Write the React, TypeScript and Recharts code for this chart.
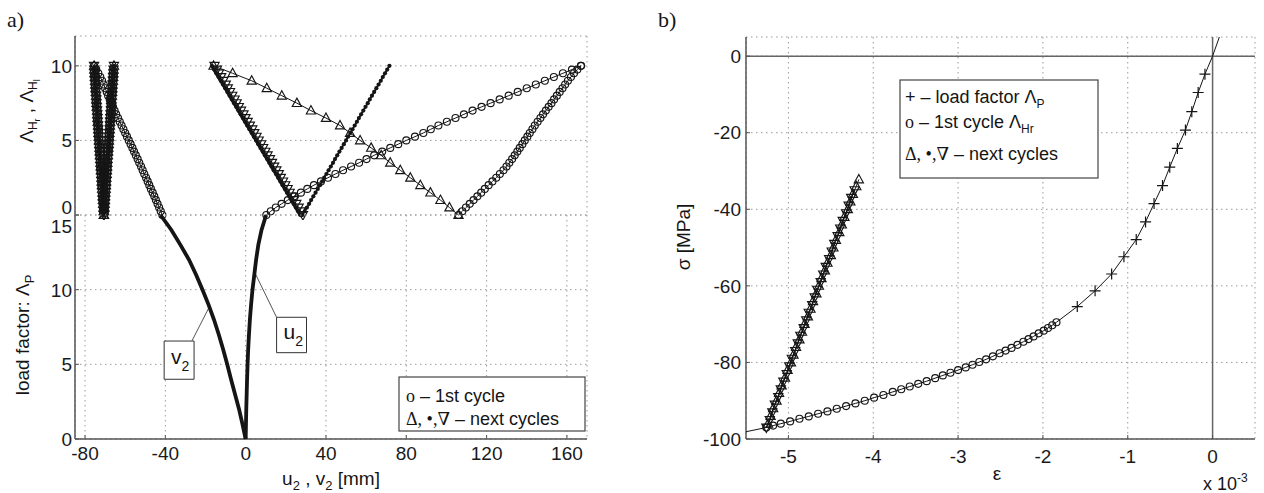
import React from 'react'
import { ScatterChart, Scatter, XAxis, YAxis, CartesianGrid, ReferenceArea, ReferenceLine } from 'recharts'

const SANS = "'Liberation Sans', Arial, Helvetica, sans-serif"
const SERIF = "'Liberation Serif', 'DejaVu Serif', 'Times New Roman', serif"
const INK = '#151515'
const FRAME = '#555'
const GRID = '#9a9a9a'

// ---------- panel a: ticks ----------
const xTicksA = [-80, -40, 0, 40, 80, 120, 160]
const yTicksTop = [0, 5, 10]
const yTicksBottom = [0, 5, 10, 15]

// hysteresis factor steps
const lambdaQ = [0, 0.25, 0.5, 0.75, 1, 1.25, 1.5, 1.75, 2, 2.25, 2.5, 2.75, 3, 3.25, 3.5, 3.75, 4, 4.25, 4.5, 4.75, 5, 5.25, 5.5, 5.75, 6, 6.25, 6.5, 6.75, 7, 7.25, 7.5, 7.75, 8, 8.25, 8.5, 8.75, 9, 9.25, 9.5, 9.75, 10]
const lambdaH = [0, 0.5, 1, 1.5, 2, 2.5, 3, 3.5, 4, 4.5, 5, 5.5, 6, 6.5, 7, 7.5, 8, 8.5, 9, 9.5, 10]

// 1st cycle (circles)
const circLeftX = [-41.5, -42.3, -43.1, -43.9, -44.7, -45.5, -46.3, -47.2, -48.0, -48.8, -49.6, -50.5, -51.3, -52.1, -53.0, -53.8, -54.7, -55.6, -56.4, -57.3, -58.2, -59.1, -60.0, -60.9, -61.8, -62.7, -63.6, -64.5, -65.3, -66.1, -66.9, -67.7, -68.5, -69.2, -70.0, -70.7, -71.5, -72.4, -73.4, -74.4, -75.5]
const circRightUpX = [10.3, 12.5, 15.0, 17.9, 21.0, 24.2, 27.5, 30.7, 34.0, 37.5, 41.0, 44.7, 48.5, 52.5, 56.5, 60.2, 64.0, 68.0, 72.0, 76.0, 80.0, 84.3, 88.5, 92.2, 96.0, 100.2, 104.5, 108.7, 113.0, 117.5, 122.0, 126.5, 131.0, 135.5, 140.0, 144.5, 149.0, 153.5, 158.0, 162.5, 167.0]
const circRightLowX = [106.0, 107.9, 109.7, 111.6, 113.5, 115.4, 117.3, 119.1, 121.0, 122.9, 124.8, 126.6, 128.4, 129.9, 131.3, 132.7, 134.0, 135.3, 136.5, 137.8, 139.0, 140.3, 141.5, 142.8, 144.0, 145.4, 146.8, 148.1, 149.5, 150.9, 152.3, 153.6, 155.0, 156.4, 157.8, 159.1, 160.5, 162.0, 163.5, 165.2, 167.0]

// next cycles
const triUpX = [106, 101.5, 97, 92, 87, 82, 77, 72, 67.5, 62.5, 57, 52, 47, 40, 32.5, 25.5, 18, 10.5, 3, -6.5, -16]
const triDownMidX = [28.5, 27.4, 26.4, 25.2, 24.1, 23.0, 21.9, 20.9, 19.7, 18.6, 17.5, 16.5, 15.3, 14.2, 13.1, 12.1, 10.9, 9.8, 8.7, 7.7, 6.5, 5.4, 4.3, 3.3, 2.1, 1.0, -0.1, -1.1, -2.3, -3.4, -4.5, -5.5, -6.7, -7.8, -8.9, -9.9, -11.1, -12.2, -13.3, -14.3, -15.5]
const dotsMidX = [27.2, 26.1, 25.0, 23.9, 22.8, 21.7, 20.6, 19.5, 18.4, 17.3, 16.2, 15.1, 14.0, 12.9, 11.8, 10.7, 9.6, 8.5, 7.4, 6.3, 5.2, 4.1, 3.0, 1.9, 0.8, -0.3, -1.4, -2.5, -3.6, -4.7, -5.8, -6.9, -8.0, -9.1, -10.2, -11.3, -12.4, -13.5, -14.6, -15.7, -16.8]
const dotsRightX = [28.3, 29.4, 30.5, 31.6, 32.6, 33.7, 34.8, 35.9, 37.0, 38.1, 39.1, 40.2, 41.3, 42.4, 43.5, 44.5, 45.6, 46.7, 47.8, 48.9, 50.0, 51.0, 52.1, 53.2, 54.3, 55.4, 56.4, 57.5, 58.6, 59.7, 60.8, 61.8, 62.9, 64.0, 65.1, 66.2, 67.3, 68.3, 69.4, 70.5, 71.6]
const vLeftX = [-70.6, -70.7, -70.8, -71.0, -71.1, -71.2, -71.3, -71.5, -71.6, -71.7, -71.8, -71.9, -72.1, -72.2, -72.3, -72.4, -72.6, -72.7, -72.8, -72.9, -73.1, -73.2, -73.3, -73.4, -73.5, -73.7, -73.8, -73.9, -74.0, -74.2, -74.3, -74.4, -74.5, -74.6, -74.8, -74.9, -75.0, -75.1, -75.3, -75.4, -75.5]
const vRightX = [-70.6, -70.5, -70.3, -70.2, -70.1, -70.0, -69.9, -69.7, -69.6, -69.5, -69.4, -69.2, -69.1, -69.0, -68.9, -68.8, -68.6, -68.5, -68.4, -68.2, -68.1, -68.0, -67.9, -67.7, -67.6, -67.5, -67.4, -67.3, -67.1, -67.0, -66.9, -66.8, -66.6, -66.5, -66.4, -66.3, -66.1, -66.0, -65.9, -65.8, -65.6]

// load phase
const lambdaP = [0, 1, 2, 3, 4, 5, 6, 7, 8, 9, 10, 11, 12, 13, 14, 15]
const v2Disp = [0, -1.6, -3.3, -5.3, -7.3, -9.2, -11.2, -13.4, -15.8, -18.5, -21.5, -24.7, -28.2, -32.5, -37.0, -42.4]
const u2Disp = [0, 0.15, 0.3, 0.5, 0.7, 0.95, 1.25, 1.65, 2.1, 2.7, 3.4, 4.3, 5.2, 6.3, 7.9, 10.2]

// annotation boxes (data coords)
const v2Box = { x1: -40.6, x2: -25.7, y1: 4.0, y2: 6.56 }
const v2Lead = [{ x: -26.8, y: 6.56 }, { x: -17.9, y: 8.9 }]
const u2Box = { x1: 15.4, x2: 30.3, y1: 5.78, y2: 8.15 }
const u2Lead = [{ x: 15.4, y: 8.15 }, { x: 4.7, y: 11.1 }]

// ---------- panel b ----------
const xTicksB = [-5, -4, -3, -2, -1, 0]
const yTicksB = [-100, -80, -60, -40, -20, 0]

const plusEps = [-0.09, -0.17, -0.245, -0.32, -0.415, -0.505, -0.59, -0.69, -0.79, -0.9, -1.045, -1.19, -1.385, -1.595]
const plusSigma = [-4.7, -9.5, -14.5, -19.3, -24.1, -29.0, -33.8, -38.5, -43.3, -47.9, -52.4, -56.9, -61.3, -65.4]

const circEps = [-1.84, -1.89, -1.94, -1.99, -2.05, -2.11, -2.17, -2.23, -2.30, -2.37, -2.44, -2.51, -2.59, -2.67, -2.75, -2.83, -2.91, -3.00, -3.09, -3.18, -3.27, -3.37, -3.47, -3.57, -3.67, -3.77, -3.88, -3.99, -4.10, -4.21, -4.32, -4.43, -4.54, -4.65, -4.76, -4.87, -4.98, -5.09, -5.18, -5.26]
const circSigma = [-69.5, -70.3, -71.0, -71.7, -72.4, -73.2, -73.9, -74.6, -75.4, -76.2, -76.9, -77.6, -78.4, -79.2, -79.9, -80.6, -81.3, -82.0, -82.7, -83.4, -84.1, -84.9, -85.6, -86.3, -87.0, -87.7, -88.5, -89.2, -90.0, -90.7, -91.4, -92.1, -92.8, -93.4, -94.1, -94.7, -95.4, -96.0, -96.5, -97.0]

const curveHeadEps = [0.08, 0]
const curveHeadSigma = [5, 0]
const curveTailEps = [-5.5]
const curveTailSigma = [-98.1]

const triUpEps = [-5.24, -5.21, -5.18, -5.14, -5.11, -5.08, -5.04, -5.01, -4.97, -4.94, -4.91, -4.87, -4.84, -4.81, -4.77, -4.74, -4.71, -4.67, -4.64, -4.61, -4.57, -4.54, -4.50, -4.47, -4.44, -4.40, -4.37, -4.34, -4.30, -4.27, -4.24, -4.20, -4.17]
const triUpSigma = [-96, -94, -92, -90, -88, -86, -84, -82, -80, -78, -76, -74, -72, -70, -68, -66, -64, -62, -60, -58, -56, -54, -52, -50, -48, -46, -44, -42, -40, -38, -36, -34, -32.2]
const triDownEps = [-5.26, -5.22, -5.19, -5.16, -5.12, -5.09, -5.06, -5.02, -4.99, -4.96, -4.92, -4.89, -4.86, -4.82, -4.79, -4.76, -4.72, -4.69, -4.66, -4.62, -4.59, -4.56, -4.52, -4.49, -4.46, -4.42, -4.39, -4.36, -4.32, -4.29, -4.26, -4.22]
const triDownSigma = [-97, -95, -93, -91, -89, -87, -85, -83, -81, -79, -77, -75, -73, -71, -69, -67, -65, -63, -61, -59, -57, -55, -53, -51, -49, -47, -45, -43, -41, -39, -37, -35]

type Pt = { x: number; y: number }
const zip = (xs: number[], ys: number[]): Pt[] => xs.map((x, i) => ({ x, y: ys[i] }))

const curveB = [
  ...zip(curveHeadEps, curveHeadSigma),
  ...zip(plusEps, plusSigma),
  ...zip(circEps, circSigma),
  ...zip(curveTailEps, curveTailSigma),
]

// markers
const MW = 1.15
const Ring = (p: any) => <circle cx={p.cx} cy={p.cy} r={3.5} fill="none" stroke={INK} strokeWidth={MW} />
const TriUp = (p: any) => (
  <path d={`M${p.cx},${p.cy - 5}L${p.cx + 4.6},${p.cy + 3.4}L${p.cx - 4.6},${p.cy + 3.4}Z`} fill="none" stroke={INK} strokeWidth={MW} />
)
const TriDown = (p: any) => (
  <path d={`M${p.cx},${p.cy + 5}L${p.cx + 4.6},${p.cy - 3.4}L${p.cx - 4.6},${p.cy - 3.4}Z`} fill="none" stroke={INK} strokeWidth={MW} />
)
const Dot = (p: any) => <circle cx={p.cx} cy={p.cy} r={2.1} fill={INK} />
const Plus = (p: any) => (
  <path d={`M${p.cx - 5.5},${p.cy}H${p.cx + 5.5}M${p.cx},${p.cy - 5.5}V${p.cy + 5.5}`} stroke={INK} strokeWidth={1.2} fill="none" />
)
const NoMark = () => <g />

const thin = { stroke: INK, strokeWidth: 1 }
const tickText = { fontSize: 19, fontFamily: SANS, fill: '#1a1a1a' }

const makeYTick = (shift: Record<number, number>) => (p: any) => (
  <text x={p.x} y={p.y + (shift[p.payload.value] || 0)} dy="0.36em" textAnchor="end" fontSize={19} fontFamily={SANS} fill="#1a1a1a">
    {p.payload.value}
  </text>
)

const boxLabel = (main: string, sub: string) => (props: any) => {
  const vb = props.viewBox || {}
  const cx = vb.x + vb.width / 2
  const cy = vb.y + vb.height / 2
  return (
    <text x={cx - 8} y={cy + 4} fontSize={21} fontFamily={SANS} fill={INK}>
      {main}
      <tspan dy={7} fontSize={14}>{sub}</tspan>
    </text>
  )
}

export default function App() {
  const frameLine = { stroke: FRAME, strokeWidth: 1.5 }
  return (
    <div style={{ position: 'absolute', left: 0, top: 0, width: 1264, height: 493, background: '#fff', fontFamily: SANS }}>
      {/* a) upper: hysteresis factors */}
      <ScatterChart width={600} height={220} margin={{ top: 36, right: 13, bottom: 5, left: 0 }} style={{ position: 'absolute', left: 0, top: 0 }}>
        <CartesianGrid stroke={GRID} strokeDasharray="1.5 3.5" />
        <XAxis type="number" dataKey="x" domain={[-85, 170]} ticks={xTicksA} interval={0} height={0} tick={false} tickSize={-4} axisLine={frameLine} tickLine={{ stroke: FRAME }} />
        <XAxis xAxisId="t" orientation="top" type="number" domain={[-85, 170]} ticks={xTicksA} interval={0} height={0} mirror tick={false} tickSize={4} axisLine={{ stroke: '#000', strokeWidth: 1.5 }} tickLine={{ stroke: FRAME }} />
        <YAxis type="number" dataKey="y" domain={[0, 12]} ticks={yTicksTop} interval={0} width={75} tickSize={-4} tickMargin={7} tick={makeYTick({ 0: -8 })} axisLine={frameLine} tickLine={{ stroke: FRAME }} />
        <YAxis yAxisId="r" orientation="right" type="number" domain={[0, 12]} ticks={yTicksTop} interval={0} width={0} mirror tick={false} tickSize={4} axisLine={frameLine} tickLine={{ stroke: FRAME }} />

        <Scatter data={zip(circLeftX, lambdaQ)} line={thin} lineType="joint" shape={Ring} isAnimationActive={false} />
        <Scatter data={zip(vLeftX, lambdaQ)} line={{ stroke: INK, strokeWidth: 2.5 }} lineType="joint" shape={TriDown} isAnimationActive={false} />
        <Scatter data={zip(vLeftX, lambdaQ)} shape={TriUp} isAnimationActive={false} />
        <Scatter data={zip(vRightX, lambdaQ)} line={{ stroke: INK, strokeWidth: 2.5 }} lineType="joint" shape={TriUp} isAnimationActive={false} />
        <Scatter data={zip(vRightX, lambdaQ)} shape={TriDown} isAnimationActive={false} />
        <Scatter data={zip(vRightX, lambdaQ)} shape={Dot} isAnimationActive={false} />

        <Scatter data={zip(circRightUpX, lambdaQ)} line={thin} lineType="joint" shape={Ring} isAnimationActive={false} />
        <Scatter data={zip(circRightLowX, lambdaQ)} line={thin} lineType="joint" shape={Ring} isAnimationActive={false} />
        <Scatter data={zip(triUpX, lambdaH)} line={thin} lineType="joint" shape={TriUp} isAnimationActive={false} />
        <Scatter data={zip(triDownMidX, lambdaQ)} line={thin} lineType="joint" shape={TriDown} isAnimationActive={false} />
        <Scatter data={zip(dotsMidX, lambdaQ)} line={{ stroke: INK, strokeWidth: 3.5 }} lineType="joint" shape={Dot} isAnimationActive={false} />
        <Scatter data={zip(dotsRightX, lambdaQ)} line={{ stroke: INK, strokeWidth: 1.8 }} lineType="joint" shape={Dot} isAnimationActive={false} />
      </ScatterChart>

      {/* a) lower: load phase */}
      <ScatterChart width={600} height={493} margin={{ top: 215, right: 13, bottom: 0, left: 0 }} style={{ position: 'absolute', left: 0, top: 0 }}>
        <CartesianGrid stroke={GRID} strokeDasharray="1.5 3.5" />
        <XAxis type="number" dataKey="x" domain={[-85, 170]} ticks={xTicksA} interval={0} height={54} tickSize={-4} tickMargin={12} tick={tickText} axisLine={frameLine} tickLine={{ stroke: FRAME }} />
        <XAxis xAxisId="t" orientation="top" type="number" domain={[-85, 170]} ticks={xTicksA} interval={0} height={0} mirror tick={false} tickLine={false} axisLine={frameLine} />
        <YAxis type="number" dataKey="y" domain={[0, 15]} ticks={yTicksBottom} interval={0} width={75} tickSize={-4} tickMargin={7} tick={makeYTick({ 15: 11 })} axisLine={frameLine} tickLine={{ stroke: FRAME }} />
        <YAxis yAxisId="r" orientation="right" type="number" domain={[0, 15]} ticks={yTicksBottom} interval={0} width={0} mirror tick={false} tickSize={4} axisLine={frameLine} tickLine={{ stroke: FRAME }} />

        <Scatter data={zip(v2Disp, lambdaP)} line={{ stroke: INK, strokeWidth: 3.8 }} lineType="joint" shape={NoMark} isAnimationActive={false} />
        <Scatter data={zip(u2Disp, lambdaP)} line={{ stroke: INK, strokeWidth: 3.8 }} lineType="joint" shape={NoMark} isAnimationActive={false} />

        <ReferenceLine segment={v2Lead} stroke="#555" strokeWidth={1} />
        <ReferenceLine segment={u2Lead} stroke="#555" strokeWidth={1} />
        <ReferenceArea {...v2Box} fill="#fff" fillOpacity={1} stroke="#333" strokeWidth={1} label={boxLabel('v', '2')} />
        <ReferenceArea {...u2Box} fill="#fff" fillOpacity={1} stroke="#333" strokeWidth={1} label={boxLabel('u', '2')} />
      </ScatterChart>

      {/* b) stress-strain */}
      <ScatterChart width={624} height={493} margin={{ top: 37, right: 9, bottom: 0, left: 0 }} style={{ position: 'absolute', left: 640, top: 0 }}>
        <CartesianGrid stroke={GRID} strokeDasharray="1.5 3.5" />
        <XAxis type="number" dataKey="x" domain={[-5.5, 0.5]} ticks={xTicksB} interval={0} height={54} tickSize={-4} tickMargin={15} tick={tickText} axisLine={frameLine} tickLine={{ stroke: FRAME }} />
        <XAxis xAxisId="t" orientation="top" type="number" domain={[-5.5, 0.5]} ticks={xTicksB} interval={0} height={0} mirror tick={false} tickSize={4} axisLine={{ stroke: '#000', strokeWidth: 1.5 }} tickLine={{ stroke: FRAME }} />
        <YAxis type="number" dataKey="y" domain={[-100, 5]} ticks={yTicksB} interval={0} width={106} tickSize={-4} tickMargin={9} tick={tickText} axisLine={frameLine} tickLine={{ stroke: FRAME }} />
        <YAxis yAxisId="r" orientation="right" type="number" domain={[-100, 5]} ticks={yTicksB} interval={0} width={0} mirror tick={false} tickSize={4} axisLine={frameLine} tickLine={{ stroke: FRAME }} />

        <ReferenceLine x={0} stroke="#666" strokeWidth={1.5} />
        <ReferenceLine y={0} stroke="#666" strokeWidth={1.5} />

        <Scatter data={curveB} line={thin} lineType="joint" shape={NoMark} isAnimationActive={false} />
        <Scatter data={zip(plusEps, plusSigma)} shape={Plus} isAnimationActive={false} />
        <Scatter data={zip(circEps, circSigma)} shape={Ring} isAnimationActive={false} />
        <Scatter data={zip(triDownEps, triDownSigma)} line={{ stroke: INK, strokeWidth: 1.5 }} lineType="joint" shape={TriDown} isAnimationActive={false} />
        <Scatter data={zip(triUpEps, triUpSigma)} line={thin} lineType="joint" shape={TriUp} isAnimationActive={false} />
      </ScatterChart>

      {/* titles, labels and legends */}
      <svg width={1264} height={493} style={{ position: 'absolute', left: 0, top: 0, pointerEvents: 'none' }} fontFamily={SANS} fill={INK}>
        <text x={7} y={27} fontFamily={SERIF} fontSize={22}>a)</text>
        <text x={658} y={27} fontFamily={SERIF} fontSize={22}>b)</text>

        <text transform="translate(33 111) rotate(-90)" textAnchor="middle" fontSize={19}>
          Λ<tspan dy={4} fontSize={12}>H</tspan><tspan dy={3} fontSize={9}>r</tspan>
          <tspan dy={-7} fontSize={19}> , Λ</tspan><tspan dy={4} fontSize={12}>H</tspan><tspan dy={3} fontSize={9}>l</tspan>
        </text>
        <text transform="translate(29 335) rotate(-90)" textAnchor="middle" fontSize={19}>
          load factor:  Λ<tspan dy={5} fontSize={13}>P</tspan>
        </text>
        <text x={331} y={485} textAnchor="middle" fontSize={19}>
          u<tspan dy={5} fontSize={13}>2</tspan><tspan dy={-5}> , v</tspan><tspan dy={5} fontSize={13}>2</tspan><tspan dy={-5}> [mm]</tspan>
        </text>

        <rect x={399} y={377} width={186} height={54} fill="#fff" stroke="#444" strokeWidth={1.2} />
        <text x={406} y={402} fontSize={18}>
          <tspan fontFamily={SERIF}>o</tspan> – 1st cycle
        </text>
        <text x={406} y={425} fontSize={18}>
          <tspan fontFamily={SERIF}>Δ, •,∇</tspan> – next cycles
        </text>

        <text transform="translate(690 237) rotate(-90)" textAnchor="middle" fontSize={19}>σ [MPa]</text>
        <text x={997} y={480} textAnchor="middle" fontSize={19}>ε</text>
        <text x={1203} y={490} fontSize={18}>
          x 10<tspan dy={-8} fontSize={12}>-3</tspan>
        </text>

        <rect x={900} y={80} width={198} height={98} fill="#fff" stroke="#444" strokeWidth={1.2} />
        <text x={905} y={103} fontSize={18}>
          + – load factor Λ<tspan dy={5} fontSize={12}>P</tspan>
        </text>
        <text x={905} y={128} fontSize={18}>
          <tspan fontFamily={SERIF}>o</tspan> – 1st cycle Λ<tspan dy={5} fontSize={12}>Hr</tspan>
        </text>
        <text x={905} y={160} fontSize={18}>
          <tspan fontFamily={SERIF}>Δ, •,∇</tspan> – next cycles
        </text>
      </svg>
    </div>
  )
}
